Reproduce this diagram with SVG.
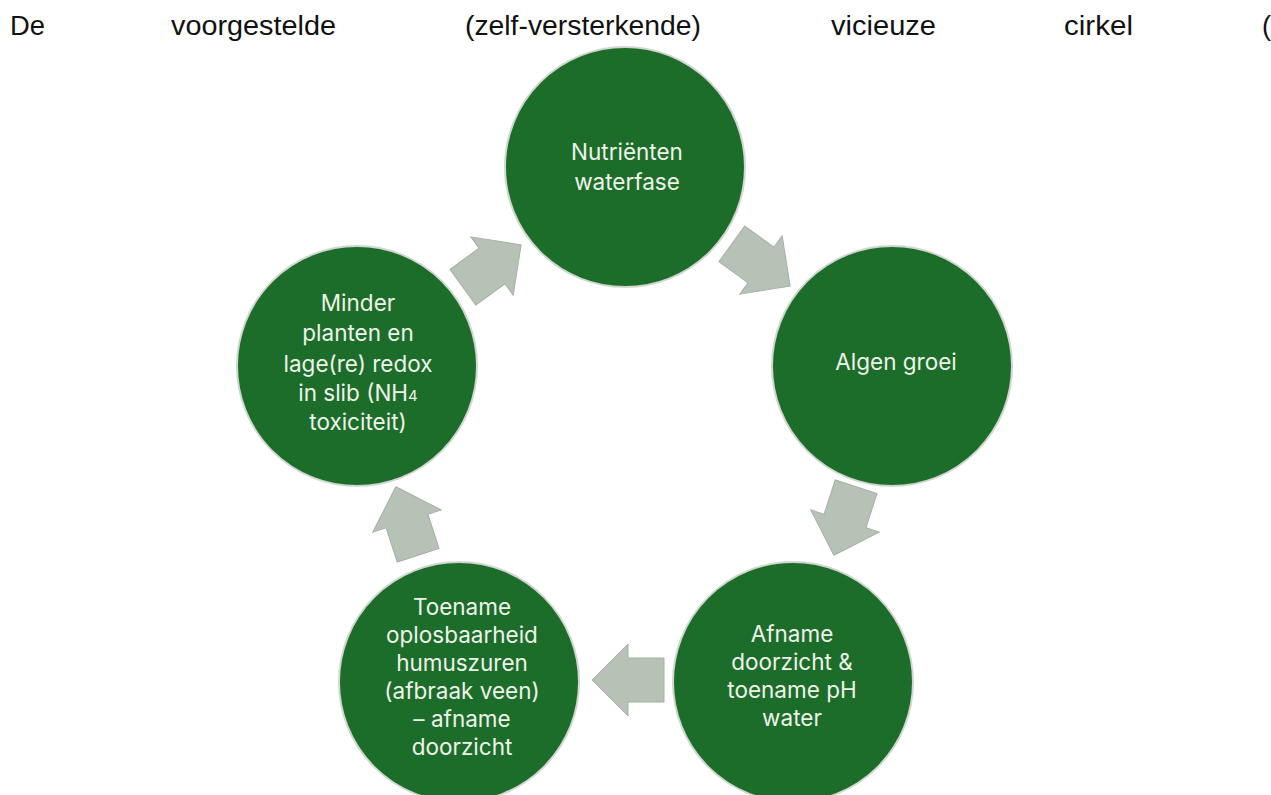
<svg xmlns="http://www.w3.org/2000/svg" xmlns:xlink="http://www.w3.org/1999/xlink" width="1271" height="795" viewBox="0 0 1271 795">
  <style>
    .hdr { font-family: "Liberation Sans", Arial, sans-serif; font-size: 27px; fill: #111111; }
    .node { fill: #1d6d2a; stroke: #d2d6d0; stroke-width: 2; }
    .lbl { font-family: Inter, "Liberation Sans", sans-serif; font-size: 22.5px; fill: #eef3ea; text-anchor: middle; }
    .arr { fill: #b6c2b6; stroke: #a6b0a6; stroke-width: 1; }
  </style>
  <defs>
    <path id="blockArrow" d="M-36,-22 H0 V-36 L36,0 L0,36 V22 H-36 Z"/>
  </defs>
  <rect x="0" y="0" width="1271" height="795" fill="#ffffff"/>

  <g id="header">
    <text class="hdr" x="10" y="35" textLength="35" lengthAdjust="spacingAndGlyphs">De</text>
    <text class="hdr" x="171" y="35" textLength="165" lengthAdjust="spacingAndGlyphs">voorgestelde</text>
    <text class="hdr" x="465" y="35" textLength="236" lengthAdjust="spacingAndGlyphs">(zelf-versterkende)</text>
    <text class="hdr" x="831" y="35" textLength="105" lengthAdjust="spacingAndGlyphs">vicieuze</text>
    <text class="hdr" x="1064" y="35" textLength="69" lengthAdjust="spacingAndGlyphs">cirkel</text>
    <text class="hdr" x="1262" y="35">(</text>
  </g>

  <g id="connectors">
    <use xlink:href="#blockArrow" class="arr" transform="translate(492,266) rotate(-36)"/>
    <use xlink:href="#blockArrow" class="arr" transform="translate(761,265) rotate(36)"/>
    <use xlink:href="#blockArrow" class="arr" transform="translate(845,521) rotate(108)"/>
    <use xlink:href="#blockArrow" class="arr" transform="translate(628,680) rotate(180)"/>
    <use xlink:href="#blockArrow" class="arr" transform="translate(407,521) rotate(252)"/>
  </g>

  <g id="node-nutrienten">
    <circle class="node" cx="625" cy="167" r="120"/>
    <text class="lbl"><tspan x="627" y="160">Nutriënten</tspan><tspan x="627" y="190">waterfase</tspan></text>
  </g>

  <g id="node-algen">
    <circle class="node" cx="892" cy="366" r="120"/>
    <text class="lbl" x="896" y="370">Algen groei</text>
  </g>

  <g id="node-afname">
    <circle class="node" cx="793" cy="682" r="120"/>
    <text class="lbl"><tspan x="792" y="642">Afname</tspan><tspan x="792" y="670">doorzicht &amp;</tspan><tspan x="792" y="698">toename pH</tspan><tspan x="792" y="726">water</tspan></text>
  </g>

  <g id="node-toename">
    <circle class="node" cx="459" cy="682" r="120"/>
    <text class="lbl"><tspan x="462" y="615">Toename</tspan><tspan x="462" y="643">oplosbaarheid</tspan><tspan x="462" y="671">humuszuren</tspan><tspan x="462" y="699">(afbraak veen)</tspan><tspan x="462" y="727">– afname</tspan><tspan x="462" y="755">doorzicht</tspan></text>
  </g>

  <g id="node-minder">
    <circle class="node" cx="357" cy="366" r="120"/>
    <text class="lbl"><tspan x="358" y="311">Minder</tspan><tspan x="358" y="341">planten en</tspan><tspan x="358" y="372">lage(re) redox</tspan><tspan x="358" y="401">in slib (NH</tspan><tspan font-size="15">4</tspan><tspan x="358" y="430">toxiciteit)</tspan></text>
  </g>
</svg>
